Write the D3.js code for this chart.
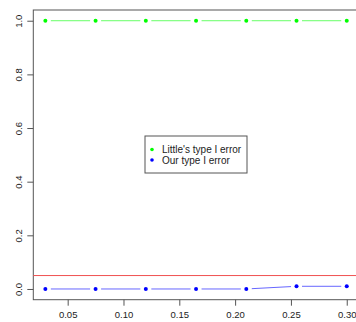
<!DOCTYPE html>
<html>
<head>
<meta charset="utf-8">
<script src="https://cdn.jsdelivr.net/npm/d3@7"></script>
<style>
  body { margin: 0; background: #fff; }
  svg { display: block; font-family: "Liberation Sans", Arial, sans-serif; }
</style>
</head>
<body>
<div id="chart"></div>
<script>
// values
var alphas = [0.03, 0.075, 0.12, 0.165, 0.21, 0.255, 0.30];
var littleErr = [1, 1, 1, 1, 1, 1, 1];
var ourErr = [0, 0, 0, 0, 0, 0.01, 0.01];
var xTicks = [0.05, 0.10, 0.15, 0.20, 0.25, 0.30];
var yTicks = [0, 0.2, 0.4, 0.6, 0.8, 1.0];
var refLevel = 0.05;
var legendLabels = ["Little's type I error", "Our type I error"];
var colours = ["#00ff00", "#0000ff"];

var W = 356, H = 322;
var svg = d3.select("#chart").append("svg")
	.attr("width", W)
	.attr("height", H);

// R style 4% padding on both axes
var x = d3.scaleLinear().domain([0.0192, 0.3108]).range([33.3, 358.8]);
var y = d3.scaleLinear().domain([-0.04, 1.04]).range([299.7, 10]);

// plot box
svg.append("rect")
	.attr("x", x.range()[0])
	.attr("y", y.range()[1])
	.attr("width", x.range()[1] - x.range()[0])
	.attr("height", y.range()[0] - y.range()[1])
	.attr("fill", "none")
	.attr("stroke", "#555")
	.attr("stroke-width", 1);

// x axis
var xAxis = d3.axisBottom(x)
	.tickValues(xTicks)
	.tickSize(6)
	.tickPadding(6)
	.tickFormat(d3.format(".2f"));
var gx = svg.append("g")
	.attr("transform", "translate(0," + y.range()[0] + ")")
	.call(xAxis);
gx.select(".domain").remove();
gx.selectAll("line").attr("stroke", "#555");
gx.selectAll("text")
	.attr("font-size", 9.5)
	.attr("fill", "#222")
	.attr("font-family", "Liberation Sans, Arial, sans-serif");

// y axis, labels rotated as in R
var yAxis = d3.axisLeft(y)
	.tickValues(yTicks)
	.tickSize(6)
	.tickFormat(d3.format(".1f"));
var gy = svg.append("g")
	.attr("transform", "translate(" + x.range()[0] + ",0)")
	.call(yAxis);
gy.select(".domain").remove();
gy.selectAll("line").attr("stroke", "#555");
gy.selectAll("text")
	.attr("font-size", 9.5)
	.attr("fill", "#222")
	.attr("font-family", "Liberation Sans, Arial, sans-serif")
	.attr("text-anchor", "middle")
	.attr("x", 0)
	.attr("dy", 0)
	.attr("transform", "translate(-15,0) rotate(-90) translate(0,3.5)");

// reference line
svg.append("line")
	.attr("x1", x.range()[0])
	.attr("x2", x.range()[1])
	.attr("y1", y(refLevel))
	.attr("y2", y(refLevel))
	.attr("stroke", "#f05050")
	.attr("stroke-width", 1);

// type "b" series: points plus lines with gaps
var gap = 5.5;
function drawSeries(vals, col) {
	var pts = alphas.map(function(a, i) { return [x(a), y(vals[i])]; });
	var segs = [];
	for (var i = 0; i < pts.length - 1; i++) {
		var p = pts[i], q = pts[i + 1];
		var dx = q[0] - p[0], dy = q[1] - p[1];
		var len = Math.sqrt(dx * dx + dy * dy);
		var ux = dx / len, uy = dy / len;
		segs.push([p[0] + ux * gap, p[1] + uy * gap, q[0] - ux * gap, q[1] - uy * gap]);
	}
	var g = svg.append("g");
	g.selectAll("line").data(segs).enter().append("line")
		.attr("x1", function(d) { return d[0]; })
		.attr("y1", function(d) { return d[1]; })
		.attr("x2", function(d) { return d[2]; })
		.attr("y2", function(d) { return d[3]; })
		.attr("stroke", col)
		.attr("stroke-opacity", 0.6)
		.attr("stroke-width", 1);
	g.selectAll("circle").data(pts).enter().append("circle")
		.attr("cx", function(d) { return d[0]; })
		.attr("cy", function(d) { return d[1]; })
		.attr("r", 2)
		.attr("fill", col);
}
drawSeries(littleErr, colours[0]);
drawSeries(ourErr, colours[1]);

// legend
var leg = svg.append("g");
leg.append("rect")
	.attr("x", 145)
	.attr("y", 136)
	.attr("width", 102)
	.attr("height", 37)
	.attr("fill", "#fff")
	.attr("stroke", "#555");
legendLabels.forEach(function(lbl, i) {
	leg.append("circle")
		.attr("cx", 152)
		.attr("cy", 149.5 + i * 10.5)
		.attr("r", 1.8)
		.attr("fill", colours[i]);
	leg.append("text")
		.attr("x", 162)
		.attr("y", 149.5 + i * 10.5)
		.attr("dy", "0.35em")
		.attr("font-size", 10)
		.attr("fill", "#222")
		.text(lbl);
});
</script>
</body>
</html>
